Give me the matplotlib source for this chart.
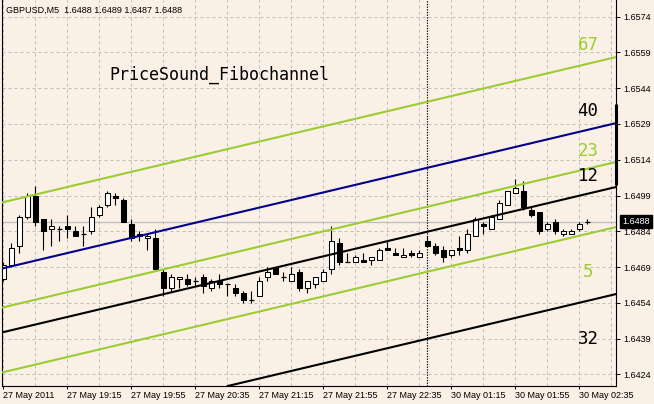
import numpy as np
import matplotlib.pyplot as plt
import matplotlib.transforms as mtransforms

plt.rcParams['font.family'] = ['Liberation Sans', 'DejaVu Sans']

# GBPUSD M5, 27-30 May 2011
opens = [1.6464, 1.6470, 1.6478, 1.6490, 1.6499, 1.6489, 1.6485, 1.6485, 1.6486, 1.6484,
         1.6483, 1.6484, 1.6491, 1.6495, 1.6499, 1.6497, 1.6487, 1.6483, 1.6481, 1.6481,
         1.6467, 1.6460, 1.6464, 1.6464, 1.6463, 1.6465, 1.6460, 1.6463, 1.6462, 1.6460,
         1.6458, 1.6455, 1.6457, 1.6465, 1.6469, 1.6465, 1.6463, 1.6467, 1.6460, 1.6462,
         1.6463, 1.6468, 1.6479, 1.6471, 1.6471, 1.6472, 1.6472, 1.6472, 1.6477, 1.6475,
         1.6473, 1.6475, 1.6473, 1.6480, 1.6478, 1.6476, 1.6474, 1.6477, 1.6476, 1.6482,
         1.6487, 1.6485, 1.6489, 1.6495, 1.6500, 1.6501, 1.6493, 1.6492, 1.6485, 1.6488,
         1.6483, 1.6483, 1.6485, 1.6488]
highs = [1.6471, 1.6479, 1.6491, 1.6500, 1.6503, 1.6489, 1.6489, 1.6486, 1.6491, 1.6486,
         1.6486, 1.6494, 1.6495, 1.6501, 1.6500, 1.6498, 1.6489, 1.6484, 1.6483, 1.6485,
         1.6468, 1.6466, 1.6465, 1.6466, 1.6465, 1.6466, 1.6464, 1.6466, 1.6462, 1.6462,
         1.6459, 1.6459, 1.6465, 1.6469, 1.6469, 1.6467, 1.6469, 1.6468, 1.6463, 1.6465,
         1.6468, 1.6486, 1.6481, 1.6475, 1.6474, 1.6475, 1.6473, 1.6477, 1.6480, 1.6477,
         1.6477, 1.6476, 1.6476, 1.6482, 1.6479, 1.6478, 1.6476, 1.6482, 1.6485, 1.6490,
         1.6488, 1.6491, 1.6497, 1.6501, 1.6506, 1.6505, 1.6494, 1.6492, 1.6488, 1.6489,
         1.6485, 1.6485, 1.6488, 1.6489]
lows = [1.6463, 1.6469, 1.6475, 1.6489, 1.6486, 1.6476, 1.6478, 1.6480, 1.6481, 1.6482,
        1.6478, 1.6483, 1.6490, 1.6494, 1.6495, 1.6488, 1.6480, 1.6480, 1.6476, 1.6468,
        1.6457, 1.6459, 1.6460, 1.6461, 1.6461, 1.6458, 1.6459, 1.6460, 1.6457, 1.6457,
        1.6454, 1.6454, 1.6457, 1.6463, 1.6466, 1.6463, 1.6463, 1.6459, 1.6458, 1.6460,
        1.6463, 1.6466, 1.6470, 1.6471, 1.6471, 1.6471, 1.6470, 1.6472, 1.6476, 1.6474,
        1.6473, 1.6473, 1.6473, 1.6478, 1.6474, 1.6471, 1.6473, 1.6474, 1.6475, 1.6482,
        1.6483, 1.6485, 1.6489, 1.6495, 1.6500, 1.6493, 1.6490, 1.6483, 1.6484, 1.6483,
        1.6482, 1.6483, 1.6484, 1.6487]
closes = [1.6470, 1.6477, 1.6490, 1.6499, 1.6488, 1.6484, 1.6486, 1.6485, 1.6485, 1.6482,
          1.6483, 1.6490, 1.6494, 1.6500, 1.6498, 1.6488, 1.6481, 1.6482, 1.6482, 1.6468,
          1.6460, 1.6465, 1.6465, 1.6462, 1.6463, 1.6461, 1.6463, 1.6462, 1.6462, 1.6458,
          1.6455, 1.6455, 1.6463, 1.6467, 1.6466, 1.6465, 1.6466, 1.6460, 1.6463, 1.6465,
          1.6467, 1.6480, 1.6471, 1.6471, 1.6473, 1.6471, 1.6473, 1.6476, 1.6476, 1.6474,
          1.6474, 1.6474, 1.6475, 1.6478, 1.6475, 1.6473, 1.6476, 1.6476, 1.6483, 1.6489,
          1.6486, 1.6490, 1.6496, 1.6501, 1.6502, 1.6494, 1.6491, 1.6484, 1.6487, 1.6484,
          1.6484, 1.6484, 1.6487, 1.6488]

time_ticks = [0, 8, 16, 24, 32, 40, 48, 56, 64, 72]
time_labels = ['27 May 2011', '27 May 19:15', '27 May 19:55', '27 May 20:35', '27 May 21:15',
               '27 May 21:55', '27 May 22:35', '30 May 01:15', '30 May 01:55', '30 May 02:35']
price_ticks = [1.6424, 1.6439, 1.6454, 1.6469, 1.6484, 1.6499, 1.6514, 1.6529, 1.6544, 1.6559, 1.6574]

# fibo channel: price at bar 0 and at bar 73
fib_names = ['67', '40', '23', '12', '5', '32']
fib_start = [1.64962, 1.64685, 1.64521, 1.64417, 1.64249, 1.63968]
fib_end = [1.65542, 1.65265, 1.65102, 1.64997, 1.64829, 1.64548]
fib_colors = ['yellowgreen', '#00008B', 'yellowgreen', 'black', 'yellowgreen', 'black']
label_base = [1.65600, 1.65323, 1.65156, 1.65051, 1.64648, 1.64367]
label_colors = ['yellowgreen', 'black', 'yellowgreen', 'black', 'yellowgreen', 'black']

bid = 1.6488
separator_bar = 53
marker_top, marker_bottom = 1.65374, 1.65034

bg = '#FAF0E6'
fig = plt.figure(figsize=(6.54, 4.04), dpi=100)
fig.patch.set_facecolor(bg)
ax = fig.add_axes([2 / 654, 18 / 404, 614 / 654, 386 / 404])
ax.set_facecolor(bg)
ax.set_xlim(-0.16, 76.6)
ax.set_ylim(1.64191, 1.65810)

# grid
for p in price_ticks:
    ax.axhline(p, color='#BDBDBD', lw=0.72, ls=(0, (3, 3)), zorder=0)
for b in np.arange(0, 77, 4):
    ax.axvline(b, color='#BDBDBD', lw=0.72, ls=(0, (3, 3)), zorder=0)

ax.axhline(bid, color='#BEBEBE', lw=0.9, zorder=0.5)
ax.axvline(separator_bar, color='black', lw=0.8, ls=(0, (1.2, 1.2)), zorder=1)

# candles
o = np.array(opens)
h = np.array(highs)
l = np.array(lows)
c = np.array(closes)
x = np.arange(len(o))
ax.vlines(x, l, h, color='black', lw=0.8, zorder=2)
body_w = 0.6
up = c > o
dn = c < o
eq = c == o
ax.bar(x[up], (c - o)[up], bottom=o[up], width=body_w, color='white',
       edgecolor='black', linewidth=0.75, zorder=2.5)
ax.bar(x[dn], (o - c)[dn], bottom=c[dn], width=body_w, color='black',
       edgecolor='black', linewidth=0.75, zorder=2.5)
ax.hlines(c[eq], x[eq] - body_w / 2, x[eq] + body_w / 2, color='black', lw=0.9, zorder=2.5)

# channel
for p0, p1, col in zip(fib_start, fib_end, fib_colors):
    ax.axline((0, p0), (73, p1), color=col, lw=1.5, zorder=3)

for name, yb, col in zip(fib_names, label_base, label_colors):
    ax.text(73.1, yb, name, color=col, ha='center', va='baseline',
            family='DejaVu Sans Mono', fontsize=12.5, zorder=4)

ax.text(13.3, 1.65474, 'PriceSound_Fibochannel', family='DejaVu Sans Mono',
        fontsize=12, color='black', ha='left', va='baseline', zorder=4)

fig.text(6 / 654, 1 - 13 / 404, 'GBPUSD,M5  1.6488 1.6489 1.6487 1.6488',
         fontsize=6.5, color='black', ha='left', va='baseline')

# right edge marker
trans = mtransforms.blended_transform_factory(ax.transAxes, ax.transData)
ax.plot([1.0008, 1.0008], [marker_bottom, marker_top], color='black', lw=2.2,
        transform=trans, clip_on=False, solid_capstyle='butt', zorder=5)

# axes
ax.spines['top'].set_visible(False)
for s in ['left', 'right', 'bottom']:
    ax.spines[s].set_color('black')
    ax.spines[s].set_linewidth(0.8)

ax.yaxis.tick_right()
ax.set_yticks(price_ticks)
ax.set_yticklabels(['%.4f' % p for p in price_ticks])
ax.tick_params(axis='y', length=3, width=0.7, pad=2.5, labelsize=6.5, colors='black')

ax.set_xticks(time_ticks)
ax.set_xticklabels(time_labels, ha='left')
ax.tick_params(axis='x', length=2.5, width=0.7, pad=1, labelsize=6.5, colors='black')

ax.annotate('%.4f' % bid, xy=(1, bid), xycoords=trans, xytext=(4.5, 0),
            textcoords='offset points', ha='left', va='center', fontsize=6.5,
            color='white', annotation_clip=False,
            bbox=dict(boxstyle='square,pad=0.2', fc='black', ec='black'))

fig.savefig('out.png', dpi=100, facecolor=bg)
